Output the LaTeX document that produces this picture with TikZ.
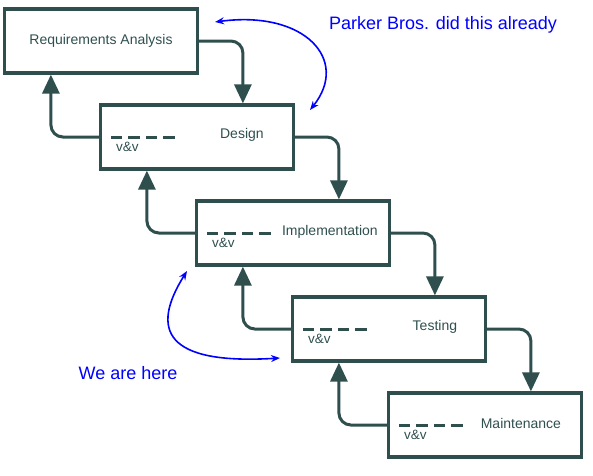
\documentclass[tikz,border=0pt]{standalone}
\usepackage{fontspec}
\setmainfont{Liberation Sans}
\usepackage{tikz}
\usetikzlibrary{arrows.meta, calc}
\definecolor{slate}{HTML}{2F4F4F}

\begin{document}
\begin{tikzpicture}[
    x=1pt, y=-1pt,
    phase/.style={rectangle, draw=slate, line width=3.2pt, minimum width=193pt, minimum height=64pt, inner sep=0pt, text=slate, font=\fontsize{14}{16}\selectfont},
    phasetext/.style={text=slate, font=\fontsize{14}{16}\selectfont, inner sep=0pt},
    vvtext/.style={text=slate, font=\fontsize{13.5}{15}\selectfont, anchor=west, inner sep=0pt},
    flow/.style={draw=slate, line width=3pt, rounded corners=12pt, -{Triangle[length=19pt, width=17pt]}},
    vvline/.style={draw=slate, line width=3pt, dash pattern=on 11.5pt off 6pt},
    note/.style={text=blue, font=\fontsize{18}{20}\selectfont, inner sep=0pt},
    notearrow/.style={draw=blue, line width=1.6pt, {Stealth[length=9pt, width=7pt]}-{Stealth[length=9pt, width=7pt]}}
]
    \useasboundingbox (0,0) rectangle (593,475);

    \node[phase] (req) at (101,41) {Requirements Analysis};
    \node[phase] (design) at (197,137) {};
    \node[phase] (impl) at (293,233) {};
    \node[phase] (test) at (389,329) {};
    \node[phase] (maint) at (485,425) {};

    \node[phasetext] (designtext) at ($(design.west)+(143,-2)$) {Design};
    \node[phasetext] (impltext) at ($(impl.west)+(135,-1)$) {Implementation};
    \node[phasetext] (testtext) at ($(test.west)+(144,-2)$) {Testing};
    \node[phasetext] (mainttext) at ($(maint.west)+(134,-2)$) {Maintenance};

    % going down the waterfall
    \draw[flow] (req.east) -| ($(design.north west)+(144,0)$);
    \draw[flow] (design.east) -| ($(impl.north west)+(144,0)$);
    \draw[flow] (impl.east) -| ($(test.north west)+(144,0)$);
    \draw[flow] (test.east) -| ($(maint.north west)+(144,0)$);

    % v&v going back up
    \draw[flow] (design.west) -| ($(req.south west)+(48,0)$);
    \draw[flow] (impl.west) -| ($(design.south west)+(48,0)$);
    \draw[flow] (test.west) -| ($(impl.south west)+(48,0)$);
    \draw[flow] (maint.west) -| ($(test.south west)+(48,0)$);

    \draw[vvline] ($(design.west)+(12,0)$) -- ++(64,0);
    \draw[vvline] ($(impl.west)+(12,0)$) -- ++(64,0);
    \draw[vvline] ($(test.west)+(12,0)$) -- ++(64,0);
    \draw[vvline] ($(maint.west)+(12,0)$) -- ++(64,0);

    \node[vvtext] (designvv) at ($(design.west)+(17,10)$) {v\&v};
    \node[vvtext] (implvv) at ($(impl.west)+(17,10)$) {v\&v};
    \node[vvtext] (testvv) at ($(test.west)+(17,10)$) {v\&v};
    \node[vvtext] (maintvv) at ($(maint.west)+(17,10)$) {v\&v};

    % notes
    \node[note] (parker) at (443,25) {Parker Bros. did this already};
    \node[note] (here) at (128,373) {We are here};
    \coordinate (pbtop) at (215,22);
    \coordinate (pbbot) at (310,110);
    \draw[notearrow] (pbtop) .. controls (305,10) and (350,60) .. (pbbot);
    \coordinate (heretop) at (187,271);
    \coordinate (herebot) at (280,358);
    \draw[notearrow] (heretop) .. controls (150,330) and (165,365) .. (herebot);
\end{tikzpicture}
\end{document}
